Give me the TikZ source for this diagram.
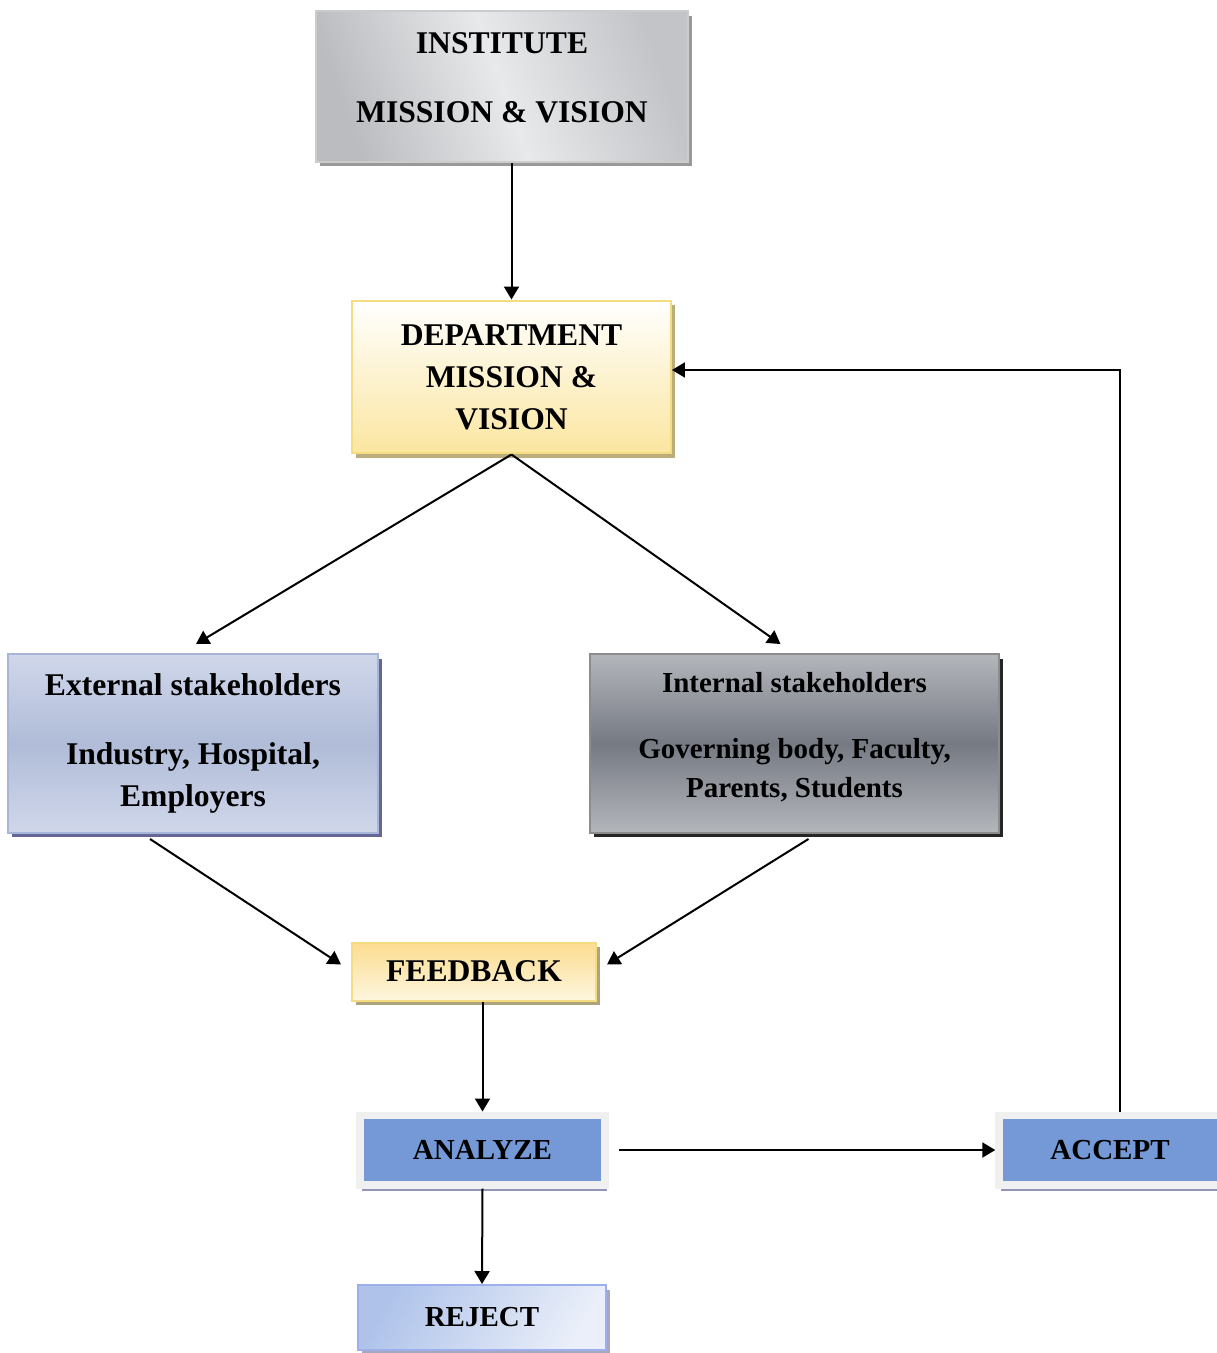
\documentclass[tikz,border=0pt]{standalone}
\usepackage{fontspec}
\setmainfont{Liberation Serif}
\usetikzlibrary{positioning,calc,arrows.meta,shadows}
\definecolor{silverA}{HTML}{BABCBF}
\definecolor{silverB}{HTML}{E8E9EB}
\definecolor{silverC}{HTML}{C2C4C7}
\definecolor{creamTop}{HTML}{FFFFFF}
\definecolor{creamBot}{HTML}{FBE6A0}
\definecolor{creamEdge}{HTML}{F4DC82}
\definecolor{steelA}{HTML}{D0D7EA}
\definecolor{steelB}{HTML}{B0BCD8}
\definecolor{steelEdge}{HTML}{A7B6D8}
\definecolor{slateA}{HTML}{B3B6BB}
\definecolor{slateB}{HTML}{767A83}
\definecolor{cornBlue}{HTML}{7499D6}
\definecolor{paleBlue}{HTML}{AFC3EA}
\definecolor{mistBlue}{HTML}{EAEFF9}
\tikzset{
  box/.style={draw,line width=0.04cm,inner sep=0pt,align=center,
    font=\fontsize{18}{24}\selectfont\bfseries},
  smallbox/.style={box,font=\fontsize{16.5}{22}\selectfont\bfseries},
  shade/.style={drop shadow={shadow xshift=0.08cm,shadow yshift=-0.09cm,
    fill=#1,opacity=1}},
  framed/.style={smallbox,fill=cornBlue,draw=black!6,line width=0.15cm,
    drop shadow={shadow xshift=0.04cm,shadow yshift=-0.12cm,
    fill=blue!20!gray!70,opacity=1}},
  arr/.style={line width=0.04cm,-{Triangle[length=0.26cm,width=0.3cm]}}
}
\begin{document}
\begin{tikzpicture}[x=0.02cm,y=-0.02cm]
  \useasboundingbox (0,0) rectangle (1217,1353);
  \node (inst) [box,shade=black!40,draw=black!20,left color=silverA,
    right color=silverC,middle color=silverB,shading angle=110,
    minimum width=7.44cm,minimum height=3.02cm,text depth=10pt]
    at (502,86.5) {INSTITUTE\\[15pt]MISSION \& VISION};
  \node (dept) [box,shade=creamEdge!70!black!80,draw=creamEdge,
    top color=creamTop,bottom color=creamBot,
    minimum width=6.38cm,minimum height=3.06cm]
    at (511.5,377) {DEPARTMENT\\MISSION \&\\VISION};
  \node (ext) [box,shade=blue!30!black!60,draw=steelEdge,top color=steelA,
    bottom color=steelA,middle color=steelB,
    minimum width=7.40cm,minimum height=3.58cm]
    at (193,743.5) {External stakeholders\\[15.5pt]Industry, Hospital,\\Employers};
  \node (int) [smallbox,shade=black!85,draw=black!45,top color=slateA,
    bottom color=slateA,middle color=slateB,text depth=10pt,
    minimum width=8.18cm,minimum height=3.58cm]
    at (794.5,743.5) {Internal stakeholders\\[15.5pt]Governing body, Faculty,\\Parents, Students};
  \node (feed) [box,shade=creamEdge!60!black!75,draw=creamEdge,
    top color=creamBot!90!orange,bottom color=creamBot!35,
    minimum width=4.88cm,minimum height=1.16cm]
    at (474,971.5) {FEEDBACK};
  \node (ana) [framed,minimum width=4.91cm,minimum height=1.39cm]
    at (482.5,1150) {ANALYZE};
  \node (acc) [framed,minimum width=4.44cm,minimum height=1.39cm]
    at (1110,1150) {ACCEPT};
  \node (rej) [smallbox,shade=blue!15!gray!60,draw=paleBlue!90!blue,
    left color=paleBlue,right color=mistBlue,shading angle=60,
    minimum width=4.96cm,minimum height=1.30cm]
    at (482,1317.5) {REJECT};
  % connectors
  \draw[arr] (inst.south -| dept.north) -- (dept.north);
  \draw[arr] (dept.south) -- ($(ext.north)+(3,-9)$);
  \draw[arr] (dept.south) -- ($(int.north)+(-14,-9)$);
  \draw[arr] ($(ext.south)+(-43,5)$) -- ($(feed.west)+(-10,-7)$);
  \draw[arr] ($(int.south)+(14,5)$) -- ($(feed.east)+(10,-7)$);
  \draw[arr] (feed.south -| ana.north) -- (ana.north);
  \draw[arr] (ana.south) -- (rej.north);
  \draw[arr,shorten <=0.2cm] (ana.east) -- (acc.west);
  \draw[arr] ($(acc.north)+(10,0)$) |- ($(dept.east)+(0,-7)$);
\end{tikzpicture}
\end{document}
